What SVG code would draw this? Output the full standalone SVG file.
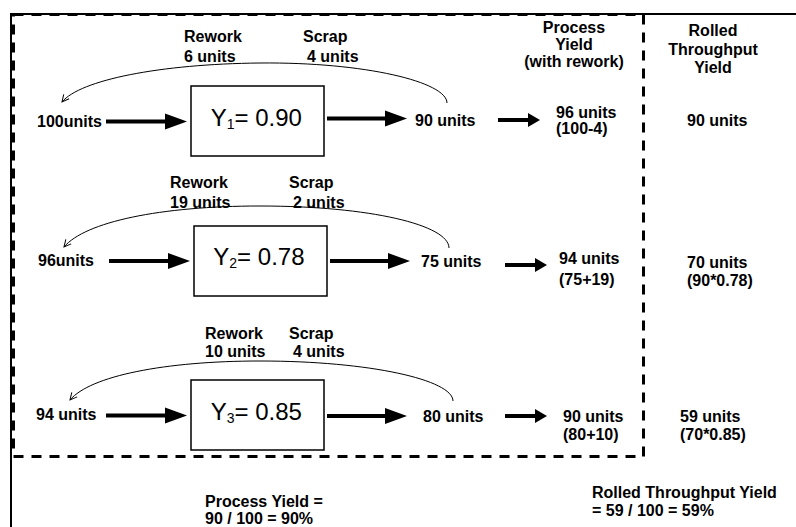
<svg xmlns="http://www.w3.org/2000/svg" width="796" height="527" viewBox="0 0 796 527">
<style>
text{font-family:"Liberation Sans",Arial,Helvetica,sans-serif;fill:#000}
.b{font-size:16px;font-weight:bold}
.y{font-size:24px}
.sub{font-size:14px}
.box{fill:#fff;stroke:#000;stroke-width:1.5}
.thick{stroke:#000;stroke-width:4;fill:none}
.curve{stroke:#000;stroke-width:1;fill:none}
.c{text-anchor:middle}
</style>
<defs>
<marker id="big" markerUnits="userSpaceOnUse" markerWidth="22" markerHeight="16" refX="2" refY="8" orient="auto" overflow="visible">
<path d="M0,0 L22,8 L0,16 z" fill="#000"/>
</marker>
<marker id="small" markerUnits="userSpaceOnUse" markerWidth="12" markerHeight="14" refX="2" refY="7" orient="auto" overflow="visible">
<path d="M0,0 L12,7 L0,14 z" fill="#000"/>
</marker>
<marker id="open" markerUnits="userSpaceOnUse" markerWidth="8" markerHeight="8" refX="0" refY="0" orient="auto" overflow="visible">
<path d="M-7,-3.5 L0,0 L-7,3.5" fill="none" stroke="#000" stroke-width="1"/>
</marker>
</defs>
<rect width="796" height="527" fill="#fff"/>
<g id="frame">
<path d="M11,527 L11,14 L796,14" fill="none" stroke="#000" stroke-width="2"/>
<rect x="13.5" y="14.5" width="630" height="442" fill="none" stroke="#000" stroke-width="3" stroke-dasharray="10 8"/>
</g>
<g id="headers">
<text class="b c" x="574" y="33">Process</text>
<text class="b c" x="574" y="50">Yield</text>
<text class="b c" x="574" y="67">(with rework)</text>
<text class="b c" x="713" y="36">Rolled</text>
<text class="b c" x="713" y="54.5">Throughput</text>
<text class="b c" x="713" y="73">Yield</text>
</g>
<g id="connectors">
<path class="thick" d="M106,121.5 L167,121.5" marker-end="url(#big)"/>
<path class="thick" d="M327,118.5 L387,118.5" marker-end="url(#big)"/>
<path class="thick" d="M498,120 L530,120" marker-end="url(#small)"/>
<path class="curve" d="M447,103 C447,82 365,62 260,63 C160,64 80,80 62,102" marker-end="url(#open)"/>
<path class="thick" d="M109,261 L170,261" marker-end="url(#big)"/>
<path class="thick" d="M330,261 L390,261" marker-end="url(#big)"/>
<path class="thick" d="M505,265 L537,265" marker-end="url(#small)"/>
<path class="curve" d="M449,248 C449,225 370,206 260,206 C160,206 85,222 64,247" marker-end="url(#open)"/>
<path class="thick" d="M106,415.5 L167,415.5" marker-end="url(#big)"/>
<path class="thick" d="M327,416 L387,416" marker-end="url(#big)"/>
<path class="thick" d="M505,416 L537,416" marker-end="url(#small)"/>
<path class="curve" d="M453,401 C453,380 370,361 260,361 C165,361 90,376 70,400" marker-end="url(#open)"/>
</g>
<g id="step1">
<rect class="box" x="191" y="86" width="133" height="70"/>
<text class="y" x="210.7" y="125.7">Y<tspan class="sub" dy="3">1</tspan><tspan dy="-3">= 0.90</tspan></text>
<text class="b" x="184" y="42">Rework</text>
<text class="b" x="184" y="62">6 units</text>
<text class="b" x="303" y="42">Scrap</text>
<text class="b" x="307" y="62">4 units</text>
<text class="b" x="37" y="127">100units</text>
<text class="b" x="415" y="126">90 units</text>
<text class="b" x="556" y="118">96 units</text>
<text class="b" x="556" y="134">(100-4)</text>
<text class="b" x="687" y="126">90 units</text>
</g>
<g id="step2">
<rect class="box" x="194" y="226" width="133" height="70"/>
<text class="y" x="213.3" y="265">Y<tspan class="sub" dy="3">2</tspan><tspan dy="-3">= 0.78</tspan></text>
<text class="b" x="170" y="188">Rework</text>
<text class="b" x="170" y="208">19 units</text>
<text class="b" x="289" y="188">Scrap</text>
<text class="b" x="293" y="208">2 units</text>
<text class="b" x="38" y="266">96units</text>
<text class="b" x="421" y="267">75 units</text>
<text class="b" x="559" y="264">94 units</text>
<text class="b" x="559" y="285">(75+19)</text>
<text class="b" x="687" y="268">70 units</text>
<text class="b" x="687" y="286">(90*0.78)</text>
</g>
<g id="step3">
<rect class="box" x="191" y="380" width="133" height="70"/>
<text class="y" x="210.7" y="420">Y<tspan class="sub" dy="3">3</tspan><tspan dy="-3">= 0.85</tspan></text>
<text class="b" x="205" y="339">Rework</text>
<text class="b" x="205" y="357">10 units</text>
<text class="b" x="289" y="339">Scrap</text>
<text class="b" x="293" y="357">4 units</text>
<text class="b" x="36" y="420">94 units</text>
<text class="b" x="423" y="421.5">80 units</text>
<text class="b" x="563" y="421.5">90 units</text>
<text class="b" x="563" y="440">(80+10)</text>
<text class="b" x="680" y="421.5">59 units</text>
<text class="b" x="680" y="440">(70*0.85)</text>
</g>
<g id="summary">
<text class="b" x="205" y="506.5">Process Yield =</text>
<text class="b" x="205" y="524">90 / 100 = 90%</text>
<text class="b" x="592" y="498">Rolled Throughput Yield</text>
<text class="b" x="592" y="516">= 59 / 100 = 59%</text>
</g>
</svg>
